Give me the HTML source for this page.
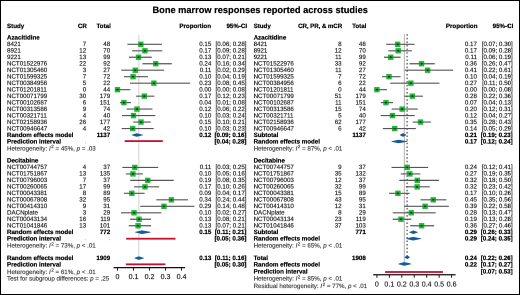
<!DOCTYPE html>
<html><head><meta charset="utf-8"><style>
html,body{margin:0;padding:0;background:#fff;}
body{width:520px;height:295px;overflow:hidden;}
.fr{position:absolute;left:0;top:0;width:518px;height:293px;border:1px solid #000;}
.w{position:absolute;left:0;top:0;width:1040px;height:590px;transform-origin:0 0;transform:scale(0.5);will-change:transform;} svg{display:block;}
text{font-family:"Liberation Sans",sans-serif;text-rendering:geometricPrecision;}
</style></head><body>
<div class="fr"></div>
<div class="w"><svg width="1040" height="590" viewBox="0 0 520 295" font-family="Liberation Sans, sans-serif" font-size="6.2">
<text x="7.00" y="28.20" font-weight="bold" stroke-width="0.2" stroke="#000">Study</text>
<text x="86.80" y="28.20" text-anchor="end" font-weight="bold" stroke-width="0.2" stroke="#000">CR</text>
<text x="110.80" y="28.20" text-anchor="end" font-weight="bold" stroke-width="0.2" stroke="#000">Total</text>
<text x="211.00" y="28.20" text-anchor="end" font-weight="bold" stroke-width="0.2" stroke="#000">Proportion</text>
<text x="247.10" y="28.20" text-anchor="end" font-weight="bold" stroke-width="0.2" stroke="#000">95%-CI</text>
<line x1="138.80" y1="35" x2="138.80" y2="258.14" stroke="#dadada" stroke-width="1.25"/>
<text x="7.00" y="39.62" font-weight="bold" stroke-width="0.2" stroke="#000">Azacitidine</text>
<text x="7.00" y="46.10" stroke-width="0.16" fill="#1a1a1a" stroke="#1a1a1a">8421</text>
<text x="86.20" y="46.10" text-anchor="end" stroke-width="0.16" fill="#1a1a1a" stroke="#1a1a1a">7</text>
<text x="110.20" y="46.10" text-anchor="end" stroke-width="0.16" fill="#1a1a1a" stroke="#1a1a1a">48</text>
<text x="211.30" y="46.10" text-anchor="end" stroke-width="0.16" fill="#1a1a1a" stroke="#1a1a1a">0.15</text>
<text x="246.50" y="46.10" text-anchor="end" stroke-width="0.16" fill="#1a1a1a" stroke="#1a1a1a">[0.06; 0.28]</text>
<line x1="127.21" y1="44.30" x2="161.92" y2="44.30" stroke="#565656" stroke-width="1.15"/>
<rect x="138.13" y="41.60" width="5.4" height="5.4" fill="#22b83a"/>
<line x1="138.13" y1="44.30" x2="143.53" y2="44.30" stroke="#000" stroke-opacity="0.22" stroke-width="1.3"/>
<ellipse cx="140.83" cy="44.30" rx="1.0" ry="0.85" fill="#0d260d"/>
<text x="7.00" y="52.58" stroke-width="0.16" fill="#1a1a1a" stroke="#1a1a1a">8921</text>
<text x="86.20" y="52.58" text-anchor="end" stroke-width="0.16" fill="#1a1a1a" stroke="#1a1a1a">12</text>
<text x="110.20" y="52.58" text-anchor="end" stroke-width="0.16" fill="#1a1a1a" stroke="#1a1a1a">70</text>
<text x="211.30" y="52.58" text-anchor="end" stroke-width="0.16" fill="#1a1a1a" stroke="#1a1a1a">0.17</text>
<text x="246.50" y="52.58" text-anchor="end" stroke-width="0.16" fill="#1a1a1a" stroke="#1a1a1a">[0.09; 0.28]</text>
<line x1="132.19" y1="50.78" x2="162.35" y2="50.78" stroke="#565656" stroke-width="1.15"/>
<rect x="142.23" y="48.08" width="5.4" height="5.4" fill="#22b83a"/>
<line x1="142.23" y1="50.78" x2="147.63" y2="50.78" stroke="#000" stroke-opacity="0.22" stroke-width="1.3"/>
<ellipse cx="144.93" cy="50.78" rx="1.0" ry="0.85" fill="#0d260d"/>
<text x="7.00" y="59.06" stroke-width="0.16" fill="#1a1a1a" stroke="#1a1a1a">9221</text>
<text x="86.20" y="59.06" text-anchor="end" stroke-width="0.16" fill="#1a1a1a" stroke="#1a1a1a">13</text>
<text x="110.20" y="59.06" text-anchor="end" stroke-width="0.16" fill="#1a1a1a" stroke="#1a1a1a">99</text>
<text x="211.30" y="59.06" text-anchor="end" stroke-width="0.16" fill="#1a1a1a" stroke="#1a1a1a">0.13</text>
<text x="246.50" y="59.06" text-anchor="end" stroke-width="0.16" fill="#1a1a1a" stroke="#1a1a1a">[0.07; 0.21]</text>
<line x1="128.99" y1="57.26" x2="151.75" y2="57.26" stroke="#565656" stroke-width="1.15"/>
<rect x="135.81" y="54.56" width="5.4" height="5.4" fill="#22b83a"/>
<line x1="135.81" y1="57.26" x2="141.21" y2="57.26" stroke="#000" stroke-opacity="0.22" stroke-width="1.3"/>
<ellipse cx="138.51" cy="57.26" rx="1.0" ry="0.85" fill="#0d260d"/>
<text x="7.00" y="65.54" stroke-width="0.16" fill="#1a1a1a" stroke="#1a1a1a">NCT01522976</text>
<text x="86.20" y="65.54" text-anchor="end" stroke-width="0.16" fill="#1a1a1a" stroke="#1a1a1a">22</text>
<text x="110.20" y="65.54" text-anchor="end" stroke-width="0.16" fill="#1a1a1a" stroke="#1a1a1a">92</text>
<text x="211.30" y="65.54" text-anchor="end" stroke-width="0.16" fill="#1a1a1a" stroke="#1a1a1a">0.24</text>
<text x="246.50" y="65.54" text-anchor="end" stroke-width="0.16" fill="#1a1a1a" stroke="#1a1a1a">[0.16; 0.34]</text>
<line x1="142.51" y1="63.74" x2="171.80" y2="63.74" stroke="#565656" stroke-width="1.15"/>
<rect x="153.06" y="61.04" width="5.4" height="5.4" fill="#22b83a"/>
<line x1="153.06" y1="63.74" x2="158.46" y2="63.74" stroke="#000" stroke-opacity="0.22" stroke-width="1.3"/>
<ellipse cx="155.76" cy="63.74" rx="1.0" ry="0.85" fill="#0d260d"/>
<text x="7.00" y="72.02" stroke-width="0.16" fill="#1a1a1a" stroke="#1a1a1a">NCT01305460</text>
<text x="86.20" y="72.02" text-anchor="end" stroke-width="0.16" fill="#1a1a1a" stroke="#1a1a1a">3</text>
<text x="110.20" y="72.02" text-anchor="end" stroke-width="0.16" fill="#1a1a1a" stroke="#1a1a1a">27</text>
<text x="211.30" y="72.02" text-anchor="end" stroke-width="0.16" fill="#1a1a1a" stroke="#1a1a1a">0.11</text>
<text x="246.50" y="72.02" text-anchor="end" stroke-width="0.16" fill="#1a1a1a" stroke="#1a1a1a">[0.02; 0.29]</text>
<line x1="121.26" y1="70.22" x2="164.15" y2="70.22" stroke="#565656" stroke-width="1.15"/>
<rect x="132.58" y="67.52" width="5.4" height="5.4" fill="#22b83a"/>
<line x1="132.58" y1="70.22" x2="137.98" y2="70.22" stroke="#000" stroke-opacity="0.22" stroke-width="1.3"/>
<ellipse cx="135.28" cy="70.22" rx="1.0" ry="0.85" fill="#0d260d"/>
<text x="7.00" y="78.50" stroke-width="0.16" fill="#1a1a1a" stroke="#1a1a1a">NCT01599325</text>
<text x="86.20" y="78.50" text-anchor="end" stroke-width="0.16" fill="#1a1a1a" stroke="#1a1a1a">7</text>
<text x="110.20" y="78.50" text-anchor="end" stroke-width="0.16" fill="#1a1a1a" stroke="#1a1a1a">72</text>
<text x="211.30" y="78.50" text-anchor="end" stroke-width="0.16" fill="#1a1a1a" stroke="#1a1a1a">0.10</text>
<text x="246.50" y="78.50" text-anchor="end" stroke-width="0.16" fill="#1a1a1a" stroke="#1a1a1a">[0.04; 0.19]</text>
<line x1="123.90" y1="76.70" x2="147.92" y2="76.70" stroke="#565656" stroke-width="1.15"/>
<rect x="130.36" y="74.00" width="5.4" height="5.4" fill="#22b83a"/>
<line x1="130.36" y1="76.70" x2="135.76" y2="76.70" stroke="#000" stroke-opacity="0.22" stroke-width="1.3"/>
<ellipse cx="133.06" cy="76.70" rx="1.0" ry="0.85" fill="#0d260d"/>
<text x="7.00" y="84.98" stroke-width="0.16" fill="#1a1a1a" stroke="#1a1a1a">NCT00384956</text>
<text x="86.20" y="84.98" text-anchor="end" stroke-width="0.16" fill="#1a1a1a" stroke="#1a1a1a">5</text>
<text x="110.20" y="84.98" text-anchor="end" stroke-width="0.16" fill="#1a1a1a" stroke="#1a1a1a">22</text>
<text x="211.30" y="84.98" text-anchor="end" stroke-width="0.16" fill="#1a1a1a" stroke="#1a1a1a">0.23</text>
<text x="246.50" y="84.98" text-anchor="end" stroke-width="0.16" fill="#1a1a1a" stroke="#1a1a1a">[0.08; 0.45]</text>
<line x1="130.01" y1="83.18" x2="190.09" y2="83.18" stroke="#565656" stroke-width="1.15"/>
<rect x="151.16" y="80.48" width="5.4" height="5.4" fill="#22b83a"/>
<line x1="151.16" y1="83.18" x2="156.56" y2="83.18" stroke="#000" stroke-opacity="0.22" stroke-width="1.3"/>
<ellipse cx="153.86" cy="83.18" rx="1.0" ry="0.85" fill="#0d260d"/>
<text x="7.00" y="91.46" stroke-width="0.16" fill="#1a1a1a" stroke="#1a1a1a">NCT01201811</text>
<text x="86.20" y="91.46" text-anchor="end" stroke-width="0.16" fill="#1a1a1a" stroke="#1a1a1a">0</text>
<text x="110.20" y="91.46" text-anchor="end" stroke-width="0.16" fill="#1a1a1a" stroke="#1a1a1a">44</text>
<text x="211.30" y="91.46" text-anchor="end" stroke-width="0.16" fill="#1a1a1a" stroke="#1a1a1a">0.00</text>
<text x="246.50" y="91.46" text-anchor="end" stroke-width="0.16" fill="#1a1a1a" stroke="#1a1a1a">[0.00; 0.08]</text>
<line x1="117.50" y1="89.66" x2="130.37" y2="89.66" stroke="#565656" stroke-width="1.15"/>
<rect x="114.80" y="86.96" width="5.4" height="5.4" fill="#22b83a"/>
<line x1="114.80" y1="89.66" x2="120.20" y2="89.66" stroke="#000" stroke-opacity="0.22" stroke-width="1.3"/>
<ellipse cx="117.50" cy="89.66" rx="1.0" ry="0.85" fill="#0d260d"/>
<text x="7.00" y="97.94" stroke-width="0.16" fill="#1a1a1a" stroke="#1a1a1a">NCT00071799</text>
<text x="86.20" y="97.94" text-anchor="end" stroke-width="0.16" fill="#1a1a1a" stroke="#1a1a1a">30</text>
<text x="110.20" y="97.94" text-anchor="end" stroke-width="0.16" fill="#1a1a1a" stroke="#1a1a1a">179</text>
<text x="211.30" y="97.94" text-anchor="end" stroke-width="0.16" fill="#1a1a1a" stroke="#1a1a1a">0.17</text>
<text x="246.50" y="97.94" text-anchor="end" stroke-width="0.16" fill="#1a1a1a" stroke="#1a1a1a">[0.12; 0.23]</text>
<line x1="136.06" y1="96.14" x2="154.38" y2="96.14" stroke="#565656" stroke-width="1.15"/>
<rect x="141.62" y="93.44" width="5.4" height="5.4" fill="#22b83a"/>
<line x1="141.62" y1="96.14" x2="147.02" y2="96.14" stroke="#000" stroke-opacity="0.22" stroke-width="1.3"/>
<ellipse cx="144.32" cy="96.14" rx="1.0" ry="0.85" fill="#0d260d"/>
<text x="7.00" y="104.42" stroke-width="0.16" fill="#1a1a1a" stroke="#1a1a1a">NCT00102687</text>
<text x="86.20" y="104.42" text-anchor="end" stroke-width="0.16" fill="#1a1a1a" stroke="#1a1a1a">6</text>
<text x="110.20" y="104.42" text-anchor="end" stroke-width="0.16" fill="#1a1a1a" stroke="#1a1a1a">151</text>
<text x="211.30" y="104.42" text-anchor="end" stroke-width="0.16" fill="#1a1a1a" stroke="#1a1a1a">0.04</text>
<text x="246.50" y="104.42" text-anchor="end" stroke-width="0.16" fill="#1a1a1a" stroke="#1a1a1a">[0.01; 0.08]</text>
<line x1="119.86" y1="102.62" x2="131.02" y2="102.62" stroke="#565656" stroke-width="1.15"/>
<rect x="121.16" y="99.92" width="5.4" height="5.4" fill="#22b83a"/>
<line x1="121.16" y1="102.62" x2="126.56" y2="102.62" stroke="#000" stroke-opacity="0.22" stroke-width="1.3"/>
<ellipse cx="123.86" cy="102.62" rx="1.0" ry="0.85" fill="#0d260d"/>
<text x="7.00" y="110.90" stroke-width="0.16" fill="#1a1a1a" stroke="#1a1a1a">NCT00313586</text>
<text x="86.20" y="110.90" text-anchor="end" stroke-width="0.16" fill="#1a1a1a" stroke="#1a1a1a">9</text>
<text x="110.20" y="110.90" text-anchor="end" stroke-width="0.16" fill="#1a1a1a" stroke="#1a1a1a">74</text>
<text x="211.30" y="110.90" text-anchor="end" stroke-width="0.16" fill="#1a1a1a" stroke="#1a1a1a">0.12</text>
<text x="246.50" y="110.90" text-anchor="end" stroke-width="0.16" fill="#1a1a1a" stroke="#1a1a1a">[0.06; 0.22]</text>
<line x1="126.64" y1="109.10" x2="152.44" y2="109.10" stroke="#565656" stroke-width="1.15"/>
<rect x="134.26" y="106.40" width="5.4" height="5.4" fill="#22b83a"/>
<line x1="134.26" y1="109.10" x2="139.66" y2="109.10" stroke="#000" stroke-opacity="0.22" stroke-width="1.3"/>
<ellipse cx="136.96" cy="109.10" rx="1.0" ry="0.85" fill="#0d260d"/>
<text x="7.00" y="117.38" stroke-width="0.16" fill="#1a1a1a" stroke="#1a1a1a">NCT00321711</text>
<text x="86.20" y="117.38" text-anchor="end" stroke-width="0.16" fill="#1a1a1a" stroke="#1a1a1a">4</text>
<text x="110.20" y="117.38" text-anchor="end" stroke-width="0.16" fill="#1a1a1a" stroke="#1a1a1a">40</text>
<text x="211.30" y="117.38" text-anchor="end" stroke-width="0.16" fill="#1a1a1a" stroke="#1a1a1a">0.10</text>
<text x="246.50" y="117.38" text-anchor="end" stroke-width="0.16" fill="#1a1a1a" stroke="#1a1a1a">[0.03; 0.24]</text>
<line x1="121.97" y1="115.58" x2="155.36" y2="115.58" stroke="#565656" stroke-width="1.15"/>
<rect x="130.80" y="112.88" width="5.4" height="5.4" fill="#22b83a"/>
<line x1="130.80" y1="115.58" x2="136.20" y2="115.58" stroke="#000" stroke-opacity="0.22" stroke-width="1.3"/>
<ellipse cx="133.50" cy="115.58" rx="1.0" ry="0.85" fill="#0d260d"/>
<text x="7.00" y="123.86" stroke-width="0.16" fill="#1a1a1a" stroke="#1a1a1a">NCT02158936</text>
<text x="86.20" y="123.86" text-anchor="end" stroke-width="0.16" fill="#1a1a1a" stroke="#1a1a1a">26</text>
<text x="110.20" y="123.86" text-anchor="end" stroke-width="0.16" fill="#1a1a1a" stroke="#1a1a1a">177</text>
<text x="211.30" y="123.86" text-anchor="end" stroke-width="0.16" fill="#1a1a1a" stroke="#1a1a1a">0.15</text>
<text x="246.50" y="123.86" text-anchor="end" stroke-width="0.16" fill="#1a1a1a" stroke="#1a1a1a">[0.10; 0.21]</text>
<line x1="133.22" y1="122.06" x2="150.74" y2="122.06" stroke="#565656" stroke-width="1.15"/>
<rect x="138.30" y="119.36" width="5.4" height="5.4" fill="#22b83a"/>
<line x1="138.30" y1="122.06" x2="143.70" y2="122.06" stroke="#000" stroke-opacity="0.22" stroke-width="1.3"/>
<ellipse cx="141.00" cy="122.06" rx="1.0" ry="0.85" fill="#0d260d"/>
<text x="7.00" y="130.34" stroke-width="0.16" fill="#1a1a1a" stroke="#1a1a1a">NCT00946647</text>
<text x="86.20" y="130.34" text-anchor="end" stroke-width="0.16" fill="#1a1a1a" stroke="#1a1a1a">4</text>
<text x="110.20" y="130.34" text-anchor="end" stroke-width="0.16" fill="#1a1a1a" stroke="#1a1a1a">42</text>
<text x="211.30" y="130.34" text-anchor="end" stroke-width="0.16" fill="#1a1a1a" stroke="#1a1a1a">0.10</text>
<text x="246.50" y="130.34" text-anchor="end" stroke-width="0.16" fill="#1a1a1a" stroke="#1a1a1a">[0.03; 0.23]</text>
<line x1="121.75" y1="128.54" x2="153.70" y2="128.54" stroke="#565656" stroke-width="1.15"/>
<rect x="130.04" y="125.84" width="5.4" height="5.4" fill="#22b83a"/>
<line x1="130.04" y1="128.54" x2="135.44" y2="128.54" stroke="#000" stroke-opacity="0.22" stroke-width="1.3"/>
<ellipse cx="132.74" cy="128.54" rx="1.0" ry="0.85" fill="#0d260d"/>
<text x="7.00" y="136.82" font-weight="bold" stroke-width="0.2" stroke="#000">Random effects model</text>
<text x="110.20" y="136.82" text-anchor="end" font-weight="bold" stroke-width="0.2" stroke="#000">1137</text>
<text x="211.30" y="136.82" text-anchor="end" font-weight="bold" stroke-width="0.2" stroke="#000">0.12</text>
<text x="246.50" y="136.82" text-anchor="end" font-weight="bold" stroke-width="0.2" stroke="#000">[0.09; 0.16]</text>
<polygon points="131.96,135.02 136.70,133.52 142.70,135.02 136.70,136.52" fill="#165a96" stroke="#165a96" stroke-width="0.6" stroke-linejoin="round"/>
<text x="7.00" y="143.30" font-weight="bold" stroke-width="0.2" stroke="#000">Prediction interval</text>
<text x="86.20" y="142.80" text-anchor="end" stroke-width="0.16" font-size="4" fill="#555" stroke="#555">.</text>
<text x="110.20" y="142.80" text-anchor="end" stroke-width="0.16" font-size="4" fill="#555" stroke="#555">.</text>
<text x="246.50" y="143.30" text-anchor="end" font-weight="bold" stroke-width="0.2" stroke="#000">[0.04; 0.28]</text>
<rect x="124.68" y="140.20" width="38.16" height="1.8" fill="#c8102e"/>
<text x="7.00" y="150.28" stroke-width="0.16" fill="#3a3a3a" stroke="#3a3a3a">Heterogeneity: <tspan font-style="italic">I</tspan><tspan dx="0.5" dy="-2.1" font-size="4.6">2</tspan><tspan dy="2.1"> = 45%, </tspan><tspan font-style="italic">p</tspan> = .03</text>
<text x="7.00" y="162.74" font-weight="bold" stroke-width="0.2" stroke="#000">Decitabine</text>
<text x="7.00" y="169.22" stroke-width="0.16" fill="#1a1a1a" stroke="#1a1a1a">NCT00744757</text>
<text x="86.20" y="169.22" text-anchor="end" stroke-width="0.16" fill="#1a1a1a" stroke="#1a1a1a">4</text>
<text x="110.20" y="169.22" text-anchor="end" stroke-width="0.16" fill="#1a1a1a" stroke="#1a1a1a">37</text>
<text x="211.30" y="169.22" text-anchor="end" stroke-width="0.16" fill="#1a1a1a" stroke="#1a1a1a">0.11</text>
<text x="246.50" y="169.22" text-anchor="end" stroke-width="0.16" fill="#1a1a1a" stroke="#1a1a1a">[0.03; 0.25]</text>
<line x1="122.34" y1="167.42" x2="158.17" y2="167.42" stroke="#565656" stroke-width="1.15"/>
<rect x="132.10" y="164.72" width="5.4" height="5.4" fill="#22b83a"/>
<line x1="132.10" y1="167.42" x2="137.50" y2="167.42" stroke="#000" stroke-opacity="0.22" stroke-width="1.3"/>
<ellipse cx="134.80" cy="167.42" rx="1.0" ry="0.85" fill="#0d260d"/>
<text x="7.00" y="175.70" stroke-width="0.16" fill="#1a1a1a" stroke="#1a1a1a">NCT01751867</text>
<text x="86.20" y="175.70" text-anchor="end" stroke-width="0.16" fill="#1a1a1a" stroke="#1a1a1a">13</text>
<text x="110.20" y="175.70" text-anchor="end" stroke-width="0.16" fill="#1a1a1a" stroke="#1a1a1a">135</text>
<text x="211.30" y="175.70" text-anchor="end" stroke-width="0.16" fill="#1a1a1a" stroke="#1a1a1a">0.10</text>
<text x="246.50" y="175.70" text-anchor="end" stroke-width="0.16" fill="#1a1a1a" stroke="#1a1a1a">[0.05; 0.16]</text>
<line x1="125.86" y1="173.90" x2="142.95" y2="173.90" stroke="#565656" stroke-width="1.15"/>
<rect x="130.21" y="171.20" width="5.4" height="5.4" fill="#22b83a"/>
<line x1="130.21" y1="173.90" x2="135.61" y2="173.90" stroke="#000" stroke-opacity="0.22" stroke-width="1.3"/>
<ellipse cx="132.91" cy="173.90" rx="1.0" ry="0.85" fill="#0d260d"/>
<text x="7.00" y="182.18" stroke-width="0.16" fill="#1a1a1a" stroke="#1a1a1a">NCT00796003</text>
<text x="86.20" y="182.18" text-anchor="end" stroke-width="0.16" fill="#1a1a1a" stroke="#1a1a1a">7</text>
<text x="110.20" y="182.18" text-anchor="end" stroke-width="0.16" fill="#1a1a1a" stroke="#1a1a1a">37</text>
<text x="211.30" y="182.18" text-anchor="end" stroke-width="0.16" fill="#1a1a1a" stroke="#1a1a1a">0.19</text>
<text x="246.50" y="182.18" text-anchor="end" stroke-width="0.16" fill="#1a1a1a" stroke="#1a1a1a">[0.08; 0.35]</text>
<line x1="130.24" y1="180.38" x2="173.75" y2="180.38" stroke="#565656" stroke-width="1.15"/>
<rect x="145.07" y="177.68" width="5.4" height="5.4" fill="#22b83a"/>
<line x1="145.07" y1="180.38" x2="150.47" y2="180.38" stroke="#000" stroke-opacity="0.22" stroke-width="1.3"/>
<ellipse cx="147.77" cy="180.38" rx="1.0" ry="0.85" fill="#0d260d"/>
<text x="7.00" y="188.66" stroke-width="0.16" fill="#1a1a1a" stroke="#1a1a1a">NCT00260065</text>
<text x="86.20" y="188.66" text-anchor="end" stroke-width="0.16" fill="#1a1a1a" stroke="#1a1a1a">17</text>
<text x="110.20" y="188.66" text-anchor="end" stroke-width="0.16" fill="#1a1a1a" stroke="#1a1a1a">99</text>
<text x="211.30" y="188.66" text-anchor="end" stroke-width="0.16" fill="#1a1a1a" stroke="#1a1a1a">0.17</text>
<text x="246.50" y="188.66" text-anchor="end" stroke-width="0.16" fill="#1a1a1a" stroke="#1a1a1a">[0.10; 0.26]</text>
<line x1="134.03" y1="186.86" x2="159.20" y2="186.86" stroke="#565656" stroke-width="1.15"/>
<rect x="142.27" y="184.16" width="5.4" height="5.4" fill="#22b83a"/>
<line x1="142.27" y1="186.86" x2="147.67" y2="186.86" stroke="#000" stroke-opacity="0.22" stroke-width="1.3"/>
<ellipse cx="144.97" cy="186.86" rx="1.0" ry="0.85" fill="#0d260d"/>
<text x="7.00" y="195.14" stroke-width="0.16" fill="#1a1a1a" stroke="#1a1a1a">NCT00043381</text>
<text x="86.20" y="195.14" text-anchor="end" stroke-width="0.16" fill="#1a1a1a" stroke="#1a1a1a">8</text>
<text x="110.20" y="195.14" text-anchor="end" stroke-width="0.16" fill="#1a1a1a" stroke="#1a1a1a">89</text>
<text x="211.30" y="195.14" text-anchor="end" stroke-width="0.16" fill="#1a1a1a" stroke="#1a1a1a">0.09</text>
<text x="246.50" y="195.14" text-anchor="end" stroke-width="0.16" fill="#1a1a1a" stroke="#1a1a1a">[0.04; 0.17]</text>
<line x1="123.84" y1="193.34" x2="144.61" y2="193.34" stroke="#565656" stroke-width="1.15"/>
<rect x="129.18" y="190.64" width="5.4" height="5.4" fill="#22b83a"/>
<line x1="129.18" y1="193.34" x2="134.58" y2="193.34" stroke="#000" stroke-opacity="0.22" stroke-width="1.3"/>
<ellipse cx="131.88" cy="193.34" rx="1.0" ry="0.85" fill="#0d260d"/>
<text x="7.00" y="201.62" stroke-width="0.16" fill="#1a1a1a" stroke="#1a1a1a">NCT00067808</text>
<text x="86.20" y="201.62" text-anchor="end" stroke-width="0.16" fill="#1a1a1a" stroke="#1a1a1a">32</text>
<text x="110.20" y="201.62" text-anchor="end" stroke-width="0.16" fill="#1a1a1a" stroke="#1a1a1a">95</text>
<text x="211.30" y="201.62" text-anchor="end" stroke-width="0.16" fill="#1a1a1a" stroke="#1a1a1a">0.34</text>
<text x="246.50" y="201.62" text-anchor="end" stroke-width="0.16" fill="#1a1a1a" stroke="#1a1a1a">[0.24; 0.44]</text>
<line x1="156.39" y1="199.82" x2="188.08" y2="199.82" stroke="#565656" stroke-width="1.15"/>
<rect x="168.69" y="197.12" width="5.4" height="5.4" fill="#22b83a"/>
<line x1="168.69" y1="199.82" x2="174.09" y2="199.82" stroke="#000" stroke-opacity="0.22" stroke-width="1.3"/>
<ellipse cx="171.39" cy="199.82" rx="1.0" ry="0.85" fill="#0d260d"/>
<text x="7.00" y="208.10" stroke-width="0.16" fill="#1a1a1a" stroke="#1a1a1a">NCT00414310</text>
<text x="86.20" y="208.10" text-anchor="end" stroke-width="0.16" fill="#1a1a1a" stroke="#1a1a1a">9</text>
<text x="110.20" y="208.10" text-anchor="end" stroke-width="0.16" fill="#1a1a1a" stroke="#1a1a1a">31</text>
<text x="211.30" y="208.10" text-anchor="end" stroke-width="0.16" fill="#1a1a1a" stroke="#1a1a1a">0.29</text>
<text x="246.50" y="208.10" text-anchor="end" stroke-width="0.16" fill="#1a1a1a" stroke="#1a1a1a">[0.14; 0.48]</text>
<line x1="140.26" y1="206.30" x2="194.36" y2="206.30" stroke="#565656" stroke-width="1.15"/>
<rect x="161.25" y="203.60" width="5.4" height="5.4" fill="#22b83a"/>
<line x1="161.25" y1="206.30" x2="166.65" y2="206.30" stroke="#000" stroke-opacity="0.22" stroke-width="1.3"/>
<ellipse cx="163.95" cy="206.30" rx="1.0" ry="0.85" fill="#0d260d"/>
<text x="7.00" y="214.58" stroke-width="0.16" fill="#1a1a1a" stroke="#1a1a1a">DACNplate</text>
<text x="86.20" y="214.58" text-anchor="end" stroke-width="0.16" fill="#1a1a1a" stroke="#1a1a1a">3</text>
<text x="110.20" y="214.58" text-anchor="end" stroke-width="0.16" fill="#1a1a1a" stroke="#1a1a1a">29</text>
<text x="211.30" y="214.58" text-anchor="end" stroke-width="0.16" fill="#1a1a1a" stroke="#1a1a1a">0.10</text>
<text x="246.50" y="214.58" text-anchor="end" stroke-width="0.16" fill="#1a1a1a" stroke="#1a1a1a">[0.02; 0.27]</text>
<line x1="121.00" y1="212.78" x2="161.26" y2="212.78" stroke="#565656" stroke-width="1.15"/>
<rect x="131.35" y="210.08" width="5.4" height="5.4" fill="#22b83a"/>
<line x1="131.35" y1="212.78" x2="136.75" y2="212.78" stroke="#000" stroke-opacity="0.22" stroke-width="1.3"/>
<ellipse cx="134.05" cy="212.78" rx="1.0" ry="0.85" fill="#0d260d"/>
<text x="7.00" y="221.06" stroke-width="0.16" fill="#1a1a1a" stroke="#1a1a1a">NCT00043134</text>
<text x="86.20" y="221.06" text-anchor="end" stroke-width="0.16" fill="#1a1a1a" stroke="#1a1a1a">16</text>
<text x="110.20" y="221.06" text-anchor="end" stroke-width="0.16" fill="#1a1a1a" stroke="#1a1a1a">119</text>
<text x="211.30" y="221.06" text-anchor="end" stroke-width="0.16" fill="#1a1a1a" stroke="#1a1a1a">0.13</text>
<text x="246.50" y="221.06" text-anchor="end" stroke-width="0.16" fill="#1a1a1a" stroke="#1a1a1a">[0.08; 0.21]</text>
<line x1="130.12" y1="219.26" x2="150.96" y2="219.26" stroke="#565656" stroke-width="1.15"/>
<rect x="136.31" y="216.56" width="5.4" height="5.4" fill="#22b83a"/>
<line x1="136.31" y1="219.26" x2="141.71" y2="219.26" stroke="#000" stroke-opacity="0.22" stroke-width="1.3"/>
<ellipse cx="139.01" cy="219.26" rx="1.0" ry="0.85" fill="#0d260d"/>
<text x="7.00" y="227.54" stroke-width="0.16" fill="#1a1a1a" stroke="#1a1a1a">NCT01041846</text>
<text x="86.20" y="227.54" text-anchor="end" stroke-width="0.16" fill="#1a1a1a" stroke="#1a1a1a">13</text>
<text x="110.20" y="227.54" text-anchor="end" stroke-width="0.16" fill="#1a1a1a" stroke="#1a1a1a">101</text>
<text x="211.30" y="227.54" text-anchor="end" stroke-width="0.16" fill="#1a1a1a" stroke="#1a1a1a">0.13</text>
<text x="246.50" y="227.54" text-anchor="end" stroke-width="0.16" fill="#1a1a1a" stroke="#1a1a1a">[0.07; 0.21]</text>
<line x1="128.76" y1="225.74" x2="151.11" y2="225.74" stroke="#565656" stroke-width="1.15"/>
<rect x="135.39" y="223.04" width="5.4" height="5.4" fill="#22b83a"/>
<line x1="135.39" y1="225.74" x2="140.79" y2="225.74" stroke="#000" stroke-opacity="0.22" stroke-width="1.3"/>
<ellipse cx="138.09" cy="225.74" rx="1.0" ry="0.85" fill="#0d260d"/>
<text x="7.00" y="234.02" font-weight="bold" stroke-width="0.2" stroke="#000">Random effects model</text>
<text x="110.20" y="234.02" text-anchor="end" font-weight="bold" stroke-width="0.2" stroke="#000">772</text>
<text x="211.30" y="234.02" text-anchor="end" font-weight="bold" stroke-width="0.2" stroke="#000">0.15</text>
<text x="246.50" y="234.02" text-anchor="end" font-weight="bold" stroke-width="0.2" stroke="#000">[0.11; 0.21]</text>
<polygon points="135.42,232.22 142.00,230.72 150.43,232.22 142.00,233.72" fill="#165a96" stroke="#165a96" stroke-width="0.6" stroke-linejoin="round"/>
<text x="7.00" y="240.50" font-weight="bold" stroke-width="0.2" stroke="#000">Prediction interval</text>
<text x="86.20" y="240.00" text-anchor="end" stroke-width="0.16" font-size="4" fill="#555" stroke="#555">.</text>
<text x="110.20" y="240.00" text-anchor="end" stroke-width="0.16" font-size="4" fill="#555" stroke="#555">.</text>
<text x="246.50" y="240.50" text-anchor="end" font-weight="bold" stroke-width="0.2" stroke="#000">[0.05; 0.36]</text>
<rect x="126.20" y="237.80" width="49.31" height="1.8" fill="#c8102e"/>
<text x="7.00" y="247.48" stroke-width="0.16" fill="#3a3a3a" stroke="#3a3a3a">Heterogeneity: <tspan font-style="italic">I</tspan><tspan dx="0.5" dy="-2.1" font-size="4.6">2</tspan><tspan dy="2.1"> = 73%, </tspan><tspan font-style="italic">p</tspan> &lt; .01</text>
<text x="7.00" y="259.94" font-weight="bold" stroke-width="0.2" stroke="#000">Random effects model</text>
<text x="110.20" y="259.94" text-anchor="end" font-weight="bold" stroke-width="0.2" stroke="#000">1909</text>
<text x="211.30" y="259.94" text-anchor="end" font-weight="bold" stroke-width="0.2" stroke="#000">0.13</text>
<text x="246.50" y="259.94" text-anchor="end" font-weight="bold" stroke-width="0.2" stroke="#000">[0.11; 0.16]</text>
<polygon points="134.70,258.14 138.80,256.64 143.69,258.14 138.80,259.64" fill="#165a96" stroke="#165a96" stroke-width="0.6" stroke-linejoin="round"/>
<text x="7.00" y="266.42" font-weight="bold" stroke-width="0.2" stroke="#000">Prediction interval</text>
<text x="246.50" y="266.42" text-anchor="end" font-weight="bold" stroke-width="0.2" stroke="#000">[0.05; 0.30]</text>
<rect x="125.87" y="263.42" width="39.54" height="1.8" fill="#c8102e"/>
<text x="7.00" y="273.80" stroke-width="0.16" fill="#3a3a3a" stroke="#3a3a3a">Heterogeneity: <tspan font-style="italic">I</tspan><tspan dx="0.5" dy="-2.1" font-size="4.6">2</tspan><tspan dy="2.1"> = 61%, </tspan><tspan font-style="italic">p</tspan> &lt; .01</text>
<text x="7.00" y="280.68" stroke-width="0.16" fill="#3a3a3a" stroke="#3a3a3a">Test for subgroup differences: <tspan font-style="italic">p</tspan> = .25</text>
<line x1="113.58" y1="267.6" x2="185.10" y2="267.6" stroke="#111" stroke-width="1.25"/>
<line x1="117.50" y1="267.6" x2="117.50" y2="270.6" stroke="#111" stroke-width="0.95"/>
<text x="117.50" y="279.20" text-anchor="middle" stroke-width="0.16" font-size="7.1" fill="#1a1a1a" stroke="#1a1a1a">0</text>
<line x1="133.50" y1="267.6" x2="133.50" y2="270.6" stroke="#111" stroke-width="0.95"/>
<text x="133.50" y="279.20" text-anchor="middle" stroke-width="0.16" font-size="7.1" fill="#1a1a1a" stroke="#1a1a1a">0.1</text>
<line x1="149.50" y1="267.6" x2="149.50" y2="270.6" stroke="#111" stroke-width="0.95"/>
<text x="149.50" y="279.20" text-anchor="middle" stroke-width="0.16" font-size="7.1" fill="#1a1a1a" stroke="#1a1a1a">0.2</text>
<line x1="165.50" y1="267.6" x2="165.50" y2="270.6" stroke="#111" stroke-width="0.95"/>
<text x="165.50" y="279.20" text-anchor="middle" stroke-width="0.16" font-size="7.1" fill="#1a1a1a" stroke="#1a1a1a">0.3</text>
<line x1="181.50" y1="267.6" x2="181.50" y2="270.6" stroke="#111" stroke-width="0.95"/>
<text x="181.50" y="279.20" text-anchor="middle" stroke-width="0.16" font-size="7.1" fill="#1a1a1a" stroke="#1a1a1a">0.4</text>
<text x="253.60" y="28.20" font-weight="bold" stroke-width="0.2" stroke="#000">Study</text>
<text x="342.10" y="28.20" text-anchor="end" font-weight="bold" stroke-width="0.2" stroke="#000" letter-spacing="-0.08">CR, PR, &amp; mCR</text>
<text x="366.40" y="28.20" text-anchor="end" font-weight="bold" stroke-width="0.2" stroke="#000">Total</text>
<text x="477.50" y="28.20" text-anchor="end" font-weight="bold" stroke-width="0.2" stroke="#000">Proportion</text>
<text x="513.30" y="28.20" text-anchor="end" font-weight="bold" stroke-width="0.2" stroke="#000">95%-CI</text>
<line x1="404.29" y1="34.3" x2="404.29" y2="263.92" stroke="#aaa" stroke-width="0.9"/>
<line x1="407.10" y1="34.1" x2="407.10" y2="257.24" stroke="#555" stroke-width="1.25" stroke-dasharray="1.6 2.02"/>
<text x="253.60" y="39.62" font-weight="bold" stroke-width="0.2" stroke="#000">Azacitidine</text>
<text x="253.60" y="46.10" stroke-width="0.16" fill="#1a1a1a" stroke="#1a1a1a">8421</text>
<text x="341.60" y="46.10" text-anchor="end" stroke-width="0.16" fill="#1a1a1a" stroke="#1a1a1a">8</text>
<text x="365.80" y="46.10" text-anchor="end" stroke-width="0.16" fill="#1a1a1a" stroke="#1a1a1a">48</text>
<text x="476.90" y="46.10" text-anchor="end" stroke-width="0.16" fill="#1a1a1a" stroke="#1a1a1a">0.17</text>
<text x="512.70" y="46.10" text-anchor="end" stroke-width="0.16" fill="#1a1a1a" stroke="#1a1a1a">[0.07; 0.30]</text>
<line x1="386.21" y1="44.30" x2="414.53" y2="44.30" stroke="#565656" stroke-width="1.15"/>
<rect x="394.95" y="41.60" width="5.4" height="5.4" fill="#22b83a"/>
<line x1="394.95" y1="44.30" x2="400.35" y2="44.30" stroke="#000" stroke-opacity="0.22" stroke-width="1.3"/>
<ellipse cx="397.65" cy="44.30" rx="1.0" ry="0.85" fill="#0d260d"/>
<text x="253.60" y="52.58" stroke-width="0.16" fill="#1a1a1a" stroke="#1a1a1a">8921</text>
<text x="341.60" y="52.58" text-anchor="end" stroke-width="0.16" fill="#1a1a1a" stroke="#1a1a1a">12</text>
<text x="365.80" y="52.58" text-anchor="end" stroke-width="0.16" fill="#1a1a1a" stroke="#1a1a1a">70</text>
<text x="476.90" y="52.58" text-anchor="end" stroke-width="0.16" fill="#1a1a1a" stroke="#1a1a1a">0.17</text>
<text x="512.70" y="52.58" text-anchor="end" stroke-width="0.16" fill="#1a1a1a" stroke="#1a1a1a">[0.09; 0.28]</text>
<line x1="388.33" y1="50.78" x2="411.80" y2="50.78" stroke="#565656" stroke-width="1.15"/>
<rect x="395.54" y="48.08" width="5.4" height="5.4" fill="#22b83a"/>
<line x1="395.54" y1="50.78" x2="400.94" y2="50.78" stroke="#000" stroke-opacity="0.22" stroke-width="1.3"/>
<ellipse cx="398.24" cy="50.78" rx="1.0" ry="0.85" fill="#0d260d"/>
<text x="253.60" y="59.06" stroke-width="0.16" fill="#1a1a1a" stroke="#1a1a1a">9221</text>
<text x="341.60" y="59.06" text-anchor="end" stroke-width="0.16" fill="#1a1a1a" stroke="#1a1a1a">11</text>
<text x="365.80" y="59.06" text-anchor="end" stroke-width="0.16" fill="#1a1a1a" stroke="#1a1a1a">99</text>
<text x="476.90" y="59.06" text-anchor="end" stroke-width="0.16" fill="#1a1a1a" stroke="#1a1a1a">0.11</text>
<text x="512.70" y="59.06" text-anchor="end" stroke-width="0.16" fill="#1a1a1a" stroke="#1a1a1a">[0.06; 0.19]</text>
<line x1="383.97" y1="57.26" x2="400.57" y2="57.26" stroke="#565656" stroke-width="1.15"/>
<rect x="388.03" y="54.56" width="5.4" height="5.4" fill="#22b83a"/>
<line x1="388.03" y1="57.26" x2="393.43" y2="57.26" stroke="#000" stroke-opacity="0.22" stroke-width="1.3"/>
<ellipse cx="390.73" cy="57.26" rx="1.0" ry="0.85" fill="#0d260d"/>
<text x="253.60" y="65.54" stroke-width="0.16" fill="#1a1a1a" stroke="#1a1a1a">NCT01522976</text>
<text x="341.60" y="65.54" text-anchor="end" stroke-width="0.16" fill="#1a1a1a" stroke="#1a1a1a">33</text>
<text x="365.80" y="65.54" text-anchor="end" stroke-width="0.16" fill="#1a1a1a" stroke="#1a1a1a">92</text>
<text x="476.90" y="65.54" text-anchor="end" stroke-width="0.16" fill="#1a1a1a" stroke="#1a1a1a">0.36</text>
<text x="512.70" y="65.54" text-anchor="end" stroke-width="0.16" fill="#1a1a1a" stroke="#1a1a1a">[0.26; 0.47]</text>
<line x1="409.44" y1="63.74" x2="434.85" y2="63.74" stroke="#565656" stroke-width="1.15"/>
<rect x="418.86" y="61.04" width="5.4" height="5.4" fill="#22b83a"/>
<line x1="418.86" y1="63.74" x2="424.26" y2="63.74" stroke="#000" stroke-opacity="0.22" stroke-width="1.3"/>
<ellipse cx="421.56" cy="63.74" rx="1.0" ry="0.85" fill="#0d260d"/>
<text x="253.60" y="72.02" stroke-width="0.16" fill="#1a1a1a" stroke="#1a1a1a">NCT01305460</text>
<text x="341.60" y="72.02" text-anchor="end" stroke-width="0.16" fill="#1a1a1a" stroke="#1a1a1a">11</text>
<text x="365.80" y="72.02" text-anchor="end" stroke-width="0.16" fill="#1a1a1a" stroke="#1a1a1a">27</text>
<text x="476.90" y="72.02" text-anchor="end" stroke-width="0.16" fill="#1a1a1a" stroke="#1a1a1a">0.41</text>
<text x="512.70" y="72.02" text-anchor="end" stroke-width="0.16" fill="#1a1a1a" stroke="#1a1a1a">[0.22; 0.61]</text>
<line x1="404.78" y1="70.22" x2="453.10" y2="70.22" stroke="#565656" stroke-width="1.15"/>
<rect x="424.92" y="67.52" width="5.4" height="5.4" fill="#22b83a"/>
<line x1="424.92" y1="70.22" x2="430.32" y2="70.22" stroke="#000" stroke-opacity="0.22" stroke-width="1.3"/>
<ellipse cx="427.62" cy="70.22" rx="1.0" ry="0.85" fill="#0d260d"/>
<text x="253.60" y="78.50" stroke-width="0.16" fill="#1a1a1a" stroke="#1a1a1a">NCT01599325</text>
<text x="341.60" y="78.50" text-anchor="end" stroke-width="0.16" fill="#1a1a1a" stroke="#1a1a1a">7</text>
<text x="365.80" y="78.50" text-anchor="end" stroke-width="0.16" fill="#1a1a1a" stroke="#1a1a1a">72</text>
<text x="476.90" y="78.50" text-anchor="end" stroke-width="0.16" fill="#1a1a1a" stroke="#1a1a1a">0.10</text>
<text x="512.70" y="78.50" text-anchor="end" stroke-width="0.16" fill="#1a1a1a" stroke="#1a1a1a">[0.04; 0.19]</text>
<line x1="381.88" y1="76.70" x2="400.57" y2="76.70" stroke="#565656" stroke-width="1.15"/>
<rect x="386.30" y="74.00" width="5.4" height="5.4" fill="#22b83a"/>
<line x1="386.30" y1="76.70" x2="391.70" y2="76.70" stroke="#000" stroke-opacity="0.22" stroke-width="1.3"/>
<ellipse cx="389.00" cy="76.70" rx="1.0" ry="0.85" fill="#0d260d"/>
<text x="253.60" y="84.98" stroke-width="0.16" fill="#1a1a1a" stroke="#1a1a1a">NCT00384956</text>
<text x="341.60" y="84.98" text-anchor="end" stroke-width="0.16" fill="#1a1a1a" stroke="#1a1a1a">6</text>
<text x="365.80" y="84.98" text-anchor="end" stroke-width="0.16" fill="#1a1a1a" stroke="#1a1a1a">22</text>
<text x="476.90" y="84.98" text-anchor="end" stroke-width="0.16" fill="#1a1a1a" stroke="#1a1a1a">0.27</text>
<text x="512.70" y="84.98" text-anchor="end" stroke-width="0.16" fill="#1a1a1a" stroke="#1a1a1a">[0.11; 0.50]</text>
<line x1="390.26" y1="83.18" x2="439.43" y2="83.18" stroke="#565656" stroke-width="1.15"/>
<rect x="408.15" y="80.48" width="5.4" height="5.4" fill="#22b83a"/>
<line x1="408.15" y1="83.18" x2="413.55" y2="83.18" stroke="#000" stroke-opacity="0.22" stroke-width="1.3"/>
<ellipse cx="410.85" cy="83.18" rx="1.0" ry="0.85" fill="#0d260d"/>
<text x="253.60" y="91.46" stroke-width="0.16" fill="#1a1a1a" stroke="#1a1a1a">NCT01201811</text>
<text x="341.60" y="91.46" text-anchor="end" stroke-width="0.16" fill="#1a1a1a" stroke="#1a1a1a">0</text>
<text x="365.80" y="91.46" text-anchor="end" stroke-width="0.16" fill="#1a1a1a" stroke="#1a1a1a">44</text>
<text x="476.90" y="91.46" text-anchor="end" stroke-width="0.16" fill="#1a1a1a" stroke="#1a1a1a">0.00</text>
<text x="512.70" y="91.46" text-anchor="end" stroke-width="0.16" fill="#1a1a1a" stroke="#1a1a1a">[0.00; 0.08]</text>
<line x1="376.90" y1="89.66" x2="386.91" y2="89.66" stroke="#565656" stroke-width="1.15"/>
<rect x="374.20" y="86.96" width="5.4" height="5.4" fill="#22b83a"/>
<line x1="374.20" y1="89.66" x2="379.60" y2="89.66" stroke="#000" stroke-opacity="0.22" stroke-width="1.3"/>
<ellipse cx="376.90" cy="89.66" rx="1.0" ry="0.85" fill="#0d260d"/>
<text x="253.60" y="97.94" stroke-width="0.16" fill="#1a1a1a" stroke="#1a1a1a">NCT00071799</text>
<text x="341.60" y="97.94" text-anchor="end" stroke-width="0.16" fill="#1a1a1a" stroke="#1a1a1a">51</text>
<text x="365.80" y="97.94" text-anchor="end" stroke-width="0.16" fill="#1a1a1a" stroke="#1a1a1a">179</text>
<text x="476.90" y="97.94" text-anchor="end" stroke-width="0.16" fill="#1a1a1a" stroke="#1a1a1a">0.28</text>
<text x="512.70" y="97.94" text-anchor="end" stroke-width="0.16" fill="#1a1a1a" stroke="#1a1a1a">[0.22; 0.36]</text>
<line x1="404.30" y1="96.14" x2="422.95" y2="96.14" stroke="#565656" stroke-width="1.15"/>
<rect x="409.67" y="93.44" width="5.4" height="5.4" fill="#22b83a"/>
<line x1="409.67" y1="96.14" x2="415.07" y2="96.14" stroke="#000" stroke-opacity="0.22" stroke-width="1.3"/>
<ellipse cx="412.37" cy="96.14" rx="1.0" ry="0.85" fill="#0d260d"/>
<text x="253.60" y="104.42" stroke-width="0.16" fill="#1a1a1a" stroke="#1a1a1a">NCT00102687</text>
<text x="341.60" y="104.42" text-anchor="end" stroke-width="0.16" fill="#1a1a1a" stroke="#1a1a1a">11</text>
<text x="365.80" y="104.42" text-anchor="end" stroke-width="0.16" fill="#1a1a1a" stroke="#1a1a1a">151</text>
<text x="476.90" y="104.42" text-anchor="end" stroke-width="0.16" fill="#1a1a1a" stroke="#1a1a1a">0.07</text>
<text x="512.70" y="104.42" text-anchor="end" stroke-width="0.16" fill="#1a1a1a" stroke="#1a1a1a">[0.04; 0.13]</text>
<line x1="380.80" y1="102.62" x2="393.06" y2="102.62" stroke="#565656" stroke-width="1.15"/>
<rect x="383.27" y="99.92" width="5.4" height="5.4" fill="#22b83a"/>
<line x1="383.27" y1="102.62" x2="388.67" y2="102.62" stroke="#000" stroke-opacity="0.22" stroke-width="1.3"/>
<ellipse cx="385.97" cy="102.62" rx="1.0" ry="0.85" fill="#0d260d"/>
<text x="253.60" y="110.90" stroke-width="0.16" fill="#1a1a1a" stroke="#1a1a1a">NCT00313586</text>
<text x="341.60" y="110.90" text-anchor="end" stroke-width="0.16" fill="#1a1a1a" stroke="#1a1a1a">15</text>
<text x="365.80" y="110.90" text-anchor="end" stroke-width="0.16" fill="#1a1a1a" stroke="#1a1a1a">74</text>
<text x="476.90" y="110.90" text-anchor="end" stroke-width="0.16" fill="#1a1a1a" stroke="#1a1a1a">0.20</text>
<text x="512.70" y="110.90" text-anchor="end" stroke-width="0.16" fill="#1a1a1a" stroke="#1a1a1a">[0.12; 0.31]</text>
<line x1="391.61" y1="109.10" x2="417.77" y2="109.10" stroke="#565656" stroke-width="1.15"/>
<rect x="399.44" y="106.40" width="5.4" height="5.4" fill="#22b83a"/>
<line x1="399.44" y1="109.10" x2="404.84" y2="109.10" stroke="#000" stroke-opacity="0.22" stroke-width="1.3"/>
<ellipse cx="402.14" cy="109.10" rx="1.0" ry="0.85" fill="#0d260d"/>
<text x="253.60" y="117.38" stroke-width="0.16" fill="#1a1a1a" stroke="#1a1a1a">NCT00321711</text>
<text x="341.60" y="117.38" text-anchor="end" stroke-width="0.16" fill="#1a1a1a" stroke="#1a1a1a">5</text>
<text x="365.80" y="117.38" text-anchor="end" stroke-width="0.16" fill="#1a1a1a" stroke="#1a1a1a">40</text>
<text x="476.90" y="117.38" text-anchor="end" stroke-width="0.16" fill="#1a1a1a" stroke="#1a1a1a">0.12</text>
<text x="512.70" y="117.38" text-anchor="end" stroke-width="0.16" fill="#1a1a1a" stroke="#1a1a1a">[0.04; 0.27]</text>
<line x1="380.71" y1="115.58" x2="414.67" y2="115.58" stroke="#565656" stroke-width="1.15"/>
<rect x="389.76" y="112.88" width="5.4" height="5.4" fill="#22b83a"/>
<line x1="389.76" y1="115.58" x2="395.16" y2="115.58" stroke="#000" stroke-opacity="0.22" stroke-width="1.3"/>
<ellipse cx="392.46" cy="115.58" rx="1.0" ry="0.85" fill="#0d260d"/>
<text x="253.60" y="123.86" stroke-width="0.16" fill="#1a1a1a" stroke="#1a1a1a">NCT02158936</text>
<text x="341.60" y="123.86" text-anchor="end" stroke-width="0.16" fill="#1a1a1a" stroke="#1a1a1a">62</text>
<text x="365.80" y="123.86" text-anchor="end" stroke-width="0.16" fill="#1a1a1a" stroke="#1a1a1a">177</text>
<text x="476.90" y="123.86" text-anchor="end" stroke-width="0.16" fill="#1a1a1a" stroke="#1a1a1a">0.35</text>
<text x="512.70" y="123.86" text-anchor="end" stroke-width="0.16" fill="#1a1a1a" stroke="#1a1a1a">[0.28; 0.43]</text>
<line x1="412.69" y1="122.06" x2="430.87" y2="122.06" stroke="#565656" stroke-width="1.15"/>
<rect x="417.81" y="119.36" width="5.4" height="5.4" fill="#22b83a"/>
<line x1="417.81" y1="122.06" x2="423.21" y2="122.06" stroke="#000" stroke-opacity="0.22" stroke-width="1.3"/>
<ellipse cx="420.51" cy="122.06" rx="1.0" ry="0.85" fill="#0d260d"/>
<text x="253.60" y="130.34" stroke-width="0.16" fill="#1a1a1a" stroke="#1a1a1a">NCT00946647</text>
<text x="341.60" y="130.34" text-anchor="end" stroke-width="0.16" fill="#1a1a1a" stroke="#1a1a1a">6</text>
<text x="365.80" y="130.34" text-anchor="end" stroke-width="0.16" fill="#1a1a1a" stroke="#1a1a1a">42</text>
<text x="476.90" y="130.34" text-anchor="end" stroke-width="0.16" fill="#1a1a1a" stroke="#1a1a1a">0.14</text>
<text x="512.70" y="130.34" text-anchor="end" stroke-width="0.16" fill="#1a1a1a" stroke="#1a1a1a">[0.05; 0.29]</text>
<line x1="382.86" y1="128.54" x2="415.83" y2="128.54" stroke="#565656" stroke-width="1.15"/>
<rect x="391.99" y="125.84" width="5.4" height="5.4" fill="#22b83a"/>
<line x1="391.99" y1="128.54" x2="397.39" y2="128.54" stroke="#000" stroke-opacity="0.22" stroke-width="1.3"/>
<ellipse cx="394.69" cy="128.54" rx="1.0" ry="0.85" fill="#0d260d"/>
<text x="253.60" y="136.82" font-weight="bold" stroke-width="0.2" stroke="#000">Subtotal</text>
<text x="365.80" y="136.82" text-anchor="end" font-weight="bold" stroke-width="0.2" stroke="#000">1137</text>
<text x="476.90" y="136.82" text-anchor="end" font-weight="bold" stroke-width="0.2" stroke="#000">0.21</text>
<text x="512.70" y="136.82" text-anchor="end" font-weight="bold" stroke-width="0.2" stroke="#000">[0.19; 0.23]</text>
<polygon points="400.09,135.02 402.96,133.52 405.98,135.02 402.96,136.52" fill="#165a96" stroke="#165a96" stroke-width="0.6" stroke-linejoin="round"/>
<text x="253.60" y="143.30" font-weight="bold" stroke-width="0.2" stroke="#000">Random effects model</text>
<text x="365.80" y="142.80" text-anchor="end" stroke-width="0.16" font-size="4" fill="#555" stroke="#555">.</text>
<text x="476.90" y="143.30" text-anchor="end" font-weight="bold" stroke-width="0.2" stroke="#000">0.17</text>
<text x="512.70" y="143.30" text-anchor="end" font-weight="bold" stroke-width="0.2" stroke="#000">[0.12; 0.24]</text>
<polygon points="391.67,141.50 398.40,140.00 407.34,141.50 398.40,143.00" fill="#165a96" stroke="#165a96" stroke-width="0.6" stroke-linejoin="round"/>
<text x="253.60" y="150.28" stroke-width="0.16" fill="#3a3a3a" stroke="#3a3a3a">Heterogeneity: <tspan font-style="italic">I</tspan><tspan dx="0.5" dy="-2.1" font-size="4.6">2</tspan><tspan dy="2.1"> = 87%, </tspan><tspan font-style="italic">p</tspan> &lt; .01</text>
<text x="253.60" y="162.74" font-weight="bold" stroke-width="0.2" stroke="#000">Decitabine</text>
<text x="253.60" y="169.22" stroke-width="0.16" fill="#1a1a1a" stroke="#1a1a1a">NCT00744757</text>
<text x="341.60" y="169.22" text-anchor="end" stroke-width="0.16" fill="#1a1a1a" stroke="#1a1a1a">9</text>
<text x="365.80" y="169.22" text-anchor="end" stroke-width="0.16" fill="#1a1a1a" stroke="#1a1a1a">37</text>
<text x="476.90" y="169.22" text-anchor="end" stroke-width="0.16" fill="#1a1a1a" stroke="#1a1a1a">0.24</text>
<text x="512.70" y="169.22" text-anchor="end" stroke-width="0.16" fill="#1a1a1a" stroke="#1a1a1a">[0.12; 0.41]</text>
<line x1="391.56" y1="167.42" x2="428.19" y2="167.42" stroke="#565656" stroke-width="1.15"/>
<rect x="404.48" y="164.72" width="5.4" height="5.4" fill="#22b83a"/>
<line x1="404.48" y1="167.42" x2="409.88" y2="167.42" stroke="#000" stroke-opacity="0.22" stroke-width="1.3"/>
<ellipse cx="407.18" cy="167.42" rx="1.0" ry="0.85" fill="#0d260d"/>
<text x="253.60" y="175.70" stroke-width="0.16" fill="#1a1a1a" stroke="#1a1a1a">NCT01751867</text>
<text x="341.60" y="175.70" text-anchor="end" stroke-width="0.16" fill="#1a1a1a" stroke="#1a1a1a">35</text>
<text x="365.80" y="175.70" text-anchor="end" stroke-width="0.16" fill="#1a1a1a" stroke="#1a1a1a">132</text>
<text x="476.90" y="175.70" text-anchor="end" stroke-width="0.16" fill="#1a1a1a" stroke="#1a1a1a">0.27</text>
<text x="512.70" y="175.70" text-anchor="end" stroke-width="0.16" fill="#1a1a1a" stroke="#1a1a1a">[0.19; 0.35]</text>
<line x1="400.82" y1="173.90" x2="420.35" y2="173.90" stroke="#565656" stroke-width="1.15"/>
<rect x="407.21" y="171.20" width="5.4" height="5.4" fill="#22b83a"/>
<line x1="407.21" y1="173.90" x2="412.61" y2="173.90" stroke="#000" stroke-opacity="0.22" stroke-width="1.3"/>
<ellipse cx="409.91" cy="173.90" rx="1.0" ry="0.85" fill="#0d260d"/>
<text x="253.60" y="182.18" stroke-width="0.16" fill="#1a1a1a" stroke="#1a1a1a">NCT00796003</text>
<text x="341.60" y="182.18" text-anchor="end" stroke-width="0.16" fill="#1a1a1a" stroke="#1a1a1a">12</text>
<text x="365.80" y="182.18" text-anchor="end" stroke-width="0.16" fill="#1a1a1a" stroke="#1a1a1a">37</text>
<text x="476.90" y="182.18" text-anchor="end" stroke-width="0.16" fill="#1a1a1a" stroke="#1a1a1a">0.32</text>
<text x="512.70" y="182.18" text-anchor="end" stroke-width="0.16" fill="#1a1a1a" stroke="#1a1a1a">[0.18; 0.50]</text>
<line x1="399.33" y1="180.38" x2="438.88" y2="180.38" stroke="#565656" stroke-width="1.15"/>
<rect x="414.58" y="177.68" width="5.4" height="5.4" fill="#22b83a"/>
<line x1="414.58" y1="180.38" x2="419.98" y2="180.38" stroke="#000" stroke-opacity="0.22" stroke-width="1.3"/>
<ellipse cx="417.28" cy="180.38" rx="1.0" ry="0.85" fill="#0d260d"/>
<text x="253.60" y="188.66" stroke-width="0.16" fill="#1a1a1a" stroke="#1a1a1a">NCT00260065</text>
<text x="341.60" y="188.66" text-anchor="end" stroke-width="0.16" fill="#1a1a1a" stroke="#1a1a1a">32</text>
<text x="365.80" y="188.66" text-anchor="end" stroke-width="0.16" fill="#1a1a1a" stroke="#1a1a1a">99</text>
<text x="476.90" y="188.66" text-anchor="end" stroke-width="0.16" fill="#1a1a1a" stroke="#1a1a1a">0.32</text>
<text x="512.70" y="188.66" text-anchor="end" stroke-width="0.16" fill="#1a1a1a" stroke="#1a1a1a">[0.23; 0.42]</text>
<line x1="405.87" y1="186.86" x2="429.77" y2="186.86" stroke="#565656" stroke-width="1.15"/>
<rect x="414.44" y="184.16" width="5.4" height="5.4" fill="#22b83a"/>
<line x1="414.44" y1="186.86" x2="419.84" y2="186.86" stroke="#000" stroke-opacity="0.22" stroke-width="1.3"/>
<ellipse cx="417.14" cy="186.86" rx="1.0" ry="0.85" fill="#0d260d"/>
<text x="253.60" y="195.14" stroke-width="0.16" fill="#1a1a1a" stroke="#1a1a1a">NCT00043381</text>
<text x="341.60" y="195.14" text-anchor="end" stroke-width="0.16" fill="#1a1a1a" stroke="#1a1a1a">15</text>
<text x="365.80" y="195.14" text-anchor="end" stroke-width="0.16" fill="#1a1a1a" stroke="#1a1a1a">89</text>
<text x="476.90" y="195.14" text-anchor="end" stroke-width="0.16" fill="#1a1a1a" stroke="#1a1a1a">0.17</text>
<text x="512.70" y="195.14" text-anchor="end" stroke-width="0.16" fill="#1a1a1a" stroke="#1a1a1a">[0.10; 0.26]</text>
<line x1="389.04" y1="193.34" x2="409.61" y2="193.34" stroke="#565656" stroke-width="1.15"/>
<rect x="395.18" y="190.64" width="5.4" height="5.4" fill="#22b83a"/>
<line x1="395.18" y1="193.34" x2="400.58" y2="193.34" stroke="#000" stroke-opacity="0.22" stroke-width="1.3"/>
<ellipse cx="397.88" cy="193.34" rx="1.0" ry="0.85" fill="#0d260d"/>
<text x="253.60" y="201.62" stroke-width="0.16" fill="#1a1a1a" stroke="#1a1a1a">NCT00067808</text>
<text x="341.60" y="201.62" text-anchor="end" stroke-width="0.16" fill="#1a1a1a" stroke="#1a1a1a">43</text>
<text x="365.80" y="201.62" text-anchor="end" stroke-width="0.16" fill="#1a1a1a" stroke="#1a1a1a">95</text>
<text x="476.90" y="201.62" text-anchor="end" stroke-width="0.16" fill="#1a1a1a" stroke="#1a1a1a">0.45</text>
<text x="512.70" y="201.62" text-anchor="end" stroke-width="0.16" fill="#1a1a1a" stroke="#1a1a1a">[0.35; 0.56]</text>
<line x1="420.50" y1="199.82" x2="446.38" y2="199.82" stroke="#565656" stroke-width="1.15"/>
<rect x="430.55" y="197.12" width="5.4" height="5.4" fill="#22b83a"/>
<line x1="430.55" y1="199.82" x2="435.95" y2="199.82" stroke="#000" stroke-opacity="0.22" stroke-width="1.3"/>
<ellipse cx="433.25" cy="199.82" rx="1.0" ry="0.85" fill="#0d260d"/>
<text x="253.60" y="208.10" stroke-width="0.16" fill="#1a1a1a" stroke="#1a1a1a">NCT00414310</text>
<text x="341.60" y="208.10" text-anchor="end" stroke-width="0.16" fill="#1a1a1a" stroke="#1a1a1a">12</text>
<text x="365.80" y="208.10" text-anchor="end" stroke-width="0.16" fill="#1a1a1a" stroke="#1a1a1a">31</text>
<text x="476.90" y="208.10" text-anchor="end" stroke-width="0.16" fill="#1a1a1a" stroke="#1a1a1a">0.39</text>
<text x="512.70" y="208.10" text-anchor="end" stroke-width="0.16" fill="#1a1a1a" stroke="#1a1a1a">[0.22; 0.58]</text>
<line x1="404.10" y1="206.30" x2="448.88" y2="206.30" stroke="#565656" stroke-width="1.15"/>
<rect x="422.39" y="203.60" width="5.4" height="5.4" fill="#22b83a"/>
<line x1="422.39" y1="206.30" x2="427.79" y2="206.30" stroke="#000" stroke-opacity="0.22" stroke-width="1.3"/>
<ellipse cx="425.09" cy="206.30" rx="1.0" ry="0.85" fill="#0d260d"/>
<text x="253.60" y="214.58" stroke-width="0.16" fill="#1a1a1a" stroke="#1a1a1a">DACNplate</text>
<text x="341.60" y="214.58" text-anchor="end" stroke-width="0.16" fill="#1a1a1a" stroke="#1a1a1a">8</text>
<text x="365.80" y="214.58" text-anchor="end" stroke-width="0.16" fill="#1a1a1a" stroke="#1a1a1a">29</text>
<text x="476.90" y="214.58" text-anchor="end" stroke-width="0.16" fill="#1a1a1a" stroke="#1a1a1a">0.28</text>
<text x="512.70" y="214.58" text-anchor="end" stroke-width="0.16" fill="#1a1a1a" stroke="#1a1a1a">[0.13; 0.47]</text>
<line x1="392.75" y1="212.78" x2="435.71" y2="212.78" stroke="#565656" stroke-width="1.15"/>
<rect x="408.54" y="210.08" width="5.4" height="5.4" fill="#22b83a"/>
<line x1="408.54" y1="212.78" x2="413.94" y2="212.78" stroke="#000" stroke-opacity="0.22" stroke-width="1.3"/>
<ellipse cx="411.24" cy="212.78" rx="1.0" ry="0.85" fill="#0d260d"/>
<text x="253.60" y="221.06" stroke-width="0.16" fill="#1a1a1a" stroke="#1a1a1a">NCT00043134</text>
<text x="341.60" y="221.06" text-anchor="end" stroke-width="0.16" fill="#1a1a1a" stroke="#1a1a1a">23</text>
<text x="365.80" y="221.06" text-anchor="end" stroke-width="0.16" fill="#1a1a1a" stroke="#1a1a1a">119</text>
<text x="476.90" y="221.06" text-anchor="end" stroke-width="0.16" fill="#1a1a1a" stroke="#1a1a1a">0.19</text>
<text x="512.70" y="221.06" text-anchor="end" stroke-width="0.16" fill="#1a1a1a" stroke="#1a1a1a">[0.13; 0.28]</text>
<line x1="392.67" y1="219.26" x2="411.23" y2="219.26" stroke="#565656" stroke-width="1.15"/>
<rect x="398.26" y="216.56" width="5.4" height="5.4" fill="#22b83a"/>
<line x1="398.26" y1="219.26" x2="403.66" y2="219.26" stroke="#000" stroke-opacity="0.22" stroke-width="1.3"/>
<ellipse cx="400.96" cy="219.26" rx="1.0" ry="0.85" fill="#0d260d"/>
<text x="253.60" y="227.54" stroke-width="0.16" fill="#1a1a1a" stroke="#1a1a1a">NCT01041846</text>
<text x="341.60" y="227.54" text-anchor="end" stroke-width="0.16" fill="#1a1a1a" stroke="#1a1a1a">37</text>
<text x="365.80" y="227.54" text-anchor="end" stroke-width="0.16" fill="#1a1a1a" stroke="#1a1a1a">103</text>
<text x="476.90" y="227.54" text-anchor="end" stroke-width="0.16" fill="#1a1a1a" stroke="#1a1a1a">0.36</text>
<text x="512.70" y="227.54" text-anchor="end" stroke-width="0.16" fill="#1a1a1a" stroke="#1a1a1a">[0.27; 0.46]</text>
<line x1="410.15" y1="225.74" x2="434.14" y2="225.74" stroke="#565656" stroke-width="1.15"/>
<rect x="418.92" y="223.04" width="5.4" height="5.4" fill="#22b83a"/>
<line x1="418.92" y1="225.74" x2="424.32" y2="225.74" stroke="#000" stroke-opacity="0.22" stroke-width="1.3"/>
<ellipse cx="421.62" cy="225.74" rx="1.0" ry="0.85" fill="#0d260d"/>
<text x="253.60" y="234.02" font-weight="bold" stroke-width="0.2" stroke="#000">Subtotal</text>
<text x="365.80" y="234.02" text-anchor="end" font-weight="bold" stroke-width="0.2" stroke="#000">771</text>
<text x="476.90" y="234.02" text-anchor="end" font-weight="bold" stroke-width="0.2" stroke="#000">0.29</text>
<text x="512.70" y="234.02" text-anchor="end" font-weight="bold" stroke-width="0.2" stroke="#000">[0.26; 0.33]</text>
<polygon points="409.53,232.22 413.39,230.72 417.51,232.22 413.39,233.72" fill="#165a96" stroke="#165a96" stroke-width="0.6" stroke-linejoin="round"/>
<text x="253.60" y="240.50" font-weight="bold" stroke-width="0.2" stroke="#000">Random effects model</text>
<text x="476.90" y="240.50" text-anchor="end" font-weight="bold" stroke-width="0.2" stroke="#000">0.29</text>
<text x="512.70" y="240.50" text-anchor="end" font-weight="bold" stroke-width="0.2" stroke="#000">[0.24; 0.35]</text>
<polygon points="406.53,238.70 413.22,237.20 420.72,238.70 413.22,240.20" fill="#165a96" stroke="#165a96" stroke-width="0.6" stroke-linejoin="round"/>
<text x="253.60" y="247.48" stroke-width="0.16" fill="#3a3a3a" stroke="#3a3a3a">Heterogeneity: <tspan font-style="italic">I</tspan><tspan dx="0.5" dy="-2.1" font-size="4.6">2</tspan><tspan dy="2.1"> = 65%, </tspan><tspan font-style="italic">p</tspan> &lt; .01</text>
<text x="253.60" y="259.94" font-weight="bold" stroke-width="0.2" stroke="#000">Total</text>
<text x="365.80" y="259.94" text-anchor="end" font-weight="bold" stroke-width="0.2" stroke="#000">1908</text>
<text x="476.90" y="259.94" text-anchor="end" font-weight="bold" stroke-width="0.2" stroke="#000">0.24</text>
<text x="512.70" y="259.94" text-anchor="end" font-weight="bold" stroke-width="0.2" stroke="#000">[0.22; 0.26]</text>
<polygon points="404.84,257.24 407.18,255.74 409.63,257.24 407.18,258.74" fill="#165a96" stroke="#165a96" stroke-width="0.6" stroke-linejoin="round"/>
<text x="253.60" y="266.42" font-weight="bold" stroke-width="0.2" stroke="#000">Random effects model</text>
<text x="476.90" y="266.42" text-anchor="end" font-weight="bold" stroke-width="0.2" stroke="#000">0.22</text>
<text x="512.70" y="266.42" text-anchor="end" font-weight="bold" stroke-width="0.2" stroke="#000">[0.17; 0.27]</text>
<polygon points="398.56,263.92 404.29,262.42 411.03,263.92 404.29,265.42" fill="#165a96" stroke="#165a96" stroke-width="0.6" stroke-linejoin="round"/>
<text x="253.60" y="273.60" font-weight="bold" stroke-width="0.2" stroke="#000">Prediction interval</text>
<text x="512.70" y="273.40" text-anchor="end" font-weight="bold" stroke-width="0.2" stroke="#000">[0.07; 0.53]</text>
<rect x="385.09" y="271.10" width="57.82" height="1.8" fill="#c8102e"/>
<text x="253.60" y="280.38" stroke-width="0.16" fill="#3a3a3a" stroke="#3a3a3a">Heterogeneity: <tspan font-style="italic">I</tspan><tspan dx="0.5" dy="-2.1" font-size="4.6">2</tspan><tspan dy="2.1"> = 85%, </tspan><tspan font-style="italic">p</tspan> &lt; .01</text>
<text x="253.60" y="288.16" stroke-width="0.16" fill="#3a3a3a" stroke="#3a3a3a">Residual heterogeneity: <tspan font-style="italic">I</tspan><tspan dx="0.5" dy="-2.1" font-size="4.6">2</tspan><tspan dy="2.1"> = 77%, </tspan><tspan font-style="italic">p</tspan> &lt; .01</text>
<line x1="373.20" y1="274.8" x2="455.58" y2="274.8" stroke="#111" stroke-width="1.25"/>
<line x1="376.90" y1="274.8" x2="376.90" y2="277.8" stroke="#111" stroke-width="0.95"/>
<text x="376.90" y="286.60" text-anchor="middle" stroke-width="0.16" font-size="7.1" fill="#1a1a1a" stroke="#1a1a1a">0</text>
<line x1="389.35" y1="274.8" x2="389.35" y2="277.8" stroke="#111" stroke-width="0.95"/>
<text x="389.35" y="286.60" text-anchor="middle" stroke-width="0.16" font-size="7.1" fill="#1a1a1a" stroke="#1a1a1a">0.1</text>
<line x1="401.80" y1="274.8" x2="401.80" y2="277.8" stroke="#111" stroke-width="0.95"/>
<text x="401.80" y="286.60" text-anchor="middle" stroke-width="0.16" font-size="7.1" fill="#1a1a1a" stroke="#1a1a1a">0.2</text>
<line x1="414.25" y1="274.8" x2="414.25" y2="277.8" stroke="#111" stroke-width="0.95"/>
<text x="414.25" y="286.60" text-anchor="middle" stroke-width="0.16" font-size="7.1" fill="#1a1a1a" stroke="#1a1a1a">0.3</text>
<line x1="426.70" y1="274.8" x2="426.70" y2="277.8" stroke="#111" stroke-width="0.95"/>
<text x="426.70" y="286.60" text-anchor="middle" stroke-width="0.16" font-size="7.1" fill="#1a1a1a" stroke="#1a1a1a">0.4</text>
<line x1="439.15" y1="274.8" x2="439.15" y2="277.8" stroke="#111" stroke-width="0.95"/>
<text x="439.15" y="286.60" text-anchor="middle" stroke-width="0.16" font-size="7.1" fill="#1a1a1a" stroke="#1a1a1a">0.5</text>
<line x1="451.60" y1="274.8" x2="451.60" y2="277.8" stroke="#111" stroke-width="0.95"/>
<text x="451.60" y="286.60" text-anchor="middle" stroke-width="0.16" font-size="7.1" fill="#1a1a1a" stroke="#1a1a1a">0.6</text>
<text x="260.20" y="12.80" text-anchor="middle" font-weight="bold" stroke-width="0.2" font-size="9.25" stroke="#000">Bone marrow responses reported across studies</text>
</svg></div>
</body></html>
